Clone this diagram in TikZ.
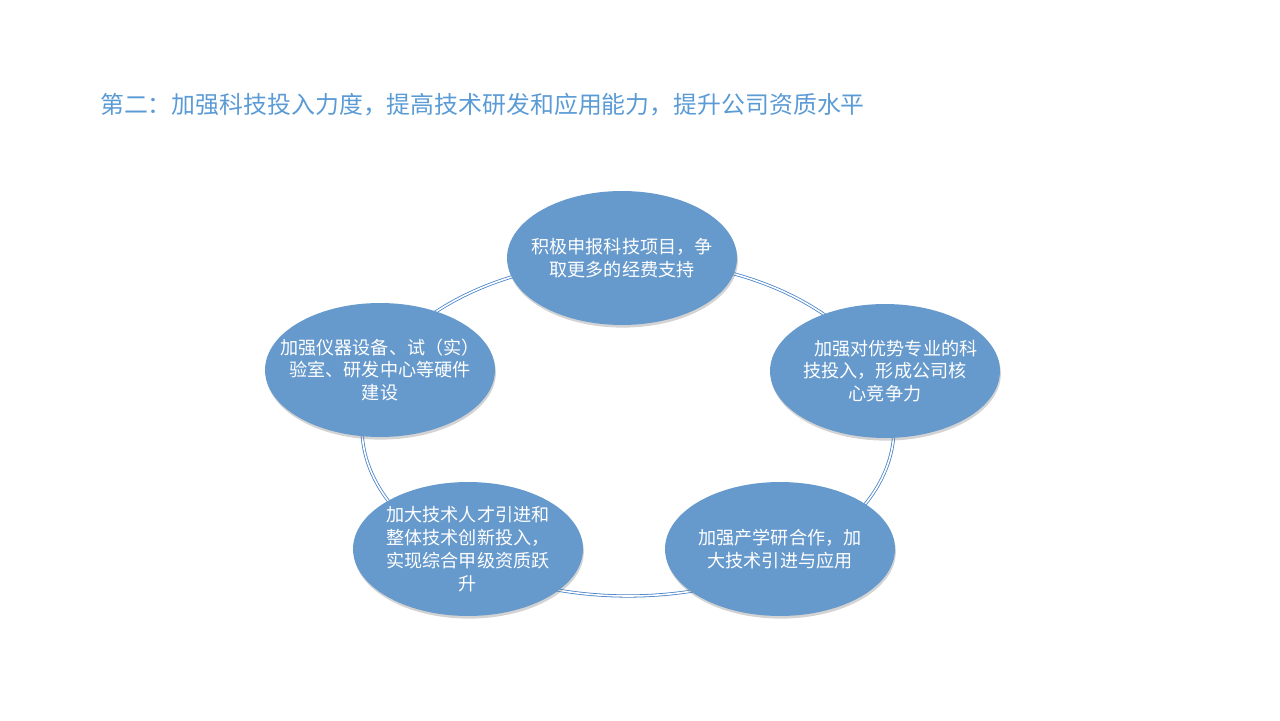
\documentclass[tikz,border=0pt]{standalone}
\usepackage{fontspec}
\setmainfont{Noto Sans CJK SC}
\usetikzlibrary{shapes.geometric, shadows, positioning}
\definecolor{titleblue}{RGB}{91, 155, 213}
\definecolor{ringblue}{RGB}{70, 130, 200}
\definecolor{nodeblue}{RGB}{102, 153, 204}

\begin{document}
\begin{tikzpicture}[
    x=0.02cm, y=0.02cm,
    goal/.style={ellipse, fill=nodeblue, minimum width=4.6cm, minimum height=2.68cm, inner sep=0pt,
        drop shadow={shadow xshift=0.5pt, shadow yshift=-1.5pt, opacity=0.35},
        label={[goaltext]center:#1}},
    goaltext/.style={text=white, align=center, font=\fontsize{10.3}{13}\selectfont},
    ring/.style={draw=ringblue, double=white, double distance=0.9pt, line width=0.45pt}
]
    \useasboundingbox (0,0) rectangle (1280,720);

    % Title
    \node[anchor=west, text=titleblue, font=\fontsize{13.6}{16}\selectfont] (title) at (94,615)
        {第二：加强科技投入力度，提高技术研发和应用能力，提升公司资质水平};

    % Ring
    \coordinate (ring) at (628,292);
    \draw[ring] (ring) ellipse [x radius=266, y radius=168];

    % Nodes
    \node[goal={积极申报科技项目，争\\取更多的经费支持}] (apply) at (622,462) {};
    \node[goal={\hspace*{1.2em}加强对优势专业的科\\技投入，形成公司核\\心竞争力}] (major) at (885,349) {};
    \node[goal={加强产学研合作，加\\大技术引进与应用}] (coop) at (780,171) {};
    \node[goal={加大技术人才引进和\\整体技术创新投入，\\实现综合甲级资质跃\\升}] (talent) at (468,171) {};
    \node[goal={加强仪器设备、试（实）\\验室、研发中心等硬件\\建设}] (lab) at (380,350) {};
\end{tikzpicture}
\end{document}
